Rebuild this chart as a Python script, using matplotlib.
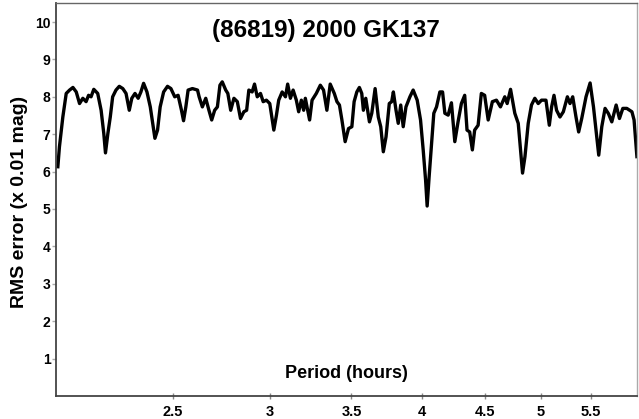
import matplotlib
matplotlib.use("Agg")
import matplotlib.pyplot as plt
from matplotlib.ticker import FixedLocator, NullLocator

# period (hours) and RMS error (x 0.01 mag)
period = [2.013, 2.019, 2.032, 2.045, 2.058, 2.071, 2.084, 2.097, 2.110, 2.123,
          2.133, 2.143, 2.154, 2.170, 2.184, 2.195, 2.202, 2.212, 2.222, 2.232,
          2.246, 2.260, 2.275, 2.289, 2.303, 2.314, 2.328, 2.342, 2.354, 2.366,
          2.381, 2.396, 2.407, 2.417, 2.429, 2.441, 2.457, 2.475, 2.491, 2.509,
          2.525, 2.541, 2.551, 2.562, 2.573, 2.594, 2.619, 2.627, 2.643, 2.660,
          2.676, 2.690, 2.705, 2.719, 2.732, 2.744, 2.762, 2.773, 2.788, 2.805,
          2.823, 2.840, 2.858, 2.873, 2.885, 2.903, 2.916, 2.931, 2.949, 2.964,
          2.982, 3.001, 3.024, 3.039, 3.052, 3.072, 3.091, 3.104, 3.120, 3.136,
          3.155, 3.169, 3.185, 3.199, 3.209, 3.223, 3.235, 3.250, 3.276, 3.301,
          3.321, 3.342, 3.363, 3.389, 3.406, 3.422, 3.438, 3.459, 3.481, 3.503,
          3.518, 3.536, 3.553, 3.569, 3.580, 3.596, 3.621, 3.637, 3.660, 3.682,
          3.699, 3.717, 3.736, 3.759, 3.776, 3.788, 3.807, 3.823, 3.841, 3.859,
          3.879, 3.908, 3.932, 3.962, 3.987, 4.007, 4.025, 4.037, 4.052, 4.071,
          4.088, 4.109, 4.135, 4.156, 4.174, 4.200, 4.226, 4.253, 4.279, 4.306,
          4.333, 4.352, 4.374, 4.396, 4.415, 4.444, 4.471, 4.499, 4.529, 4.565,
          4.600, 4.635, 4.673, 4.694, 4.724, 4.762, 4.793, 4.814, 4.832, 4.854,
          4.884, 4.914, 4.945, 4.977, 5.008, 5.050, 5.082, 5.104, 5.127, 5.152,
          5.185, 5.218, 5.258, 5.284, 5.311, 5.344, 5.371, 5.402, 5.446, 5.488,
          5.523, 5.557, 5.578, 5.610, 5.645, 5.681, 5.717, 5.764, 5.800, 5.837,
          5.881, 5.938, 5.962, 5.994]
rms = [6.13, 6.66, 7.46, 8.09, 8.18, 8.25, 8.13, 7.82, 7.96, 7.87,
       8.04, 8.00, 8.20, 8.09, 7.64, 7.02, 6.50, 7.02, 7.46, 8.00,
       8.18, 8.28, 8.22, 8.09, 7.64, 7.96, 8.09, 7.96, 8.13, 8.36,
       8.13, 7.73, 7.29, 6.89, 7.11, 7.73, 8.13, 8.28, 8.22, 8.00,
       8.04, 7.64, 7.36, 7.73, 8.18, 8.22, 8.18, 8.00, 7.73, 7.96,
       7.64, 7.38, 7.64, 7.73, 8.31, 8.40, 8.18, 8.09, 7.64, 7.96,
       7.87, 7.42, 7.60, 7.64, 8.18, 8.13, 8.34, 8.00, 8.09, 7.87,
       7.91, 7.82, 7.11, 7.51, 7.91, 8.13, 8.00, 8.34, 7.96, 8.18,
       7.91, 7.60, 7.91, 7.64, 7.96, 7.64, 7.38, 7.91, 8.09, 8.31,
       8.18, 7.64, 8.34, 8.09, 7.87, 7.78, 7.38, 6.80, 7.15, 7.20,
       7.87, 8.13, 8.25, 8.09, 7.64, 7.96, 7.33, 7.56, 8.22, 7.46,
       7.20, 6.53, 6.93, 7.82, 7.87, 8.13, 7.64, 7.29, 7.78, 7.20,
       7.73, 8.00, 8.18, 7.91, 7.38, 6.58, 5.78, 5.08, 5.86, 6.75,
       7.56, 7.73, 8.13, 8.13, 7.56, 7.51, 7.84, 6.80, 7.33, 7.82,
       8.04, 7.11, 7.06, 6.58, 7.11, 7.24, 8.09, 8.04, 7.38, 7.87,
       7.91, 7.73, 8.00, 7.82, 8.20, 7.56, 7.29, 6.58, 5.96, 6.40,
       7.29, 7.78, 7.96, 7.82, 7.91, 7.91, 7.24, 7.73, 8.04, 7.64,
       7.46, 7.60, 8.00, 7.82, 8.00, 7.46, 7.06, 7.42, 8.00, 8.37,
       7.73, 6.93, 6.44, 7.20, 7.69, 7.55, 7.33, 7.78, 7.42, 7.69,
       7.69, 7.60, 7.38, 6.40]

x_ticks = [2.5, 3, 3.5, 4, 4.5, 5, 5.5]
x_tick_labels = ["2.5", "3", "3.5", "4", "4.5", "5", "5.5"]
y_ticks = [1, 2, 3, 4, 5, 6, 7, 8, 9, 10]

plt.rcParams['font.family'] = ['Liberation Sans', 'DejaVu Sans']

fig = plt.figure(figsize=(6.39, 4.19), dpi=100)
ax = fig.add_axes([56 / 639, 1 - 396 / 419, 581 / 639, 392.7 / 419])
ax.plot(period, rms, color='black', linewidth=2.4, solid_joinstyle='round')

ax.set_xscale('log')
ax.set_xlim(2.006, 5.995)
ax.set_ylim(0, 10.5)
ax.xaxis.set_major_locator(FixedLocator(x_ticks))
ax.xaxis.set_minor_locator(NullLocator())
ax.set_xticklabels(x_tick_labels)
ax.set_yticks(y_ticks)
ax.tick_params(axis='x', direction='inout', length=5, width=1, color='#888888',
               labelsize=10.5, pad=4)
ax.tick_params(axis='y', direction='out', length=3, width=1, color='#aaaaaa',
               labelsize=10, pad=1)
for lab in ax.get_xticklabels() + ax.get_yticklabels():
    lab.set_fontweight('bold')

for side in ['left', 'bottom']:
    ax.spines[side].set_color('#444444')
    ax.spines[side].set_linewidth(1.3)
ax.spines['top'].set_color('#666666')
ax.spines['top'].set_linewidth(1.0)
ax.spines['right'].set_color('#aaaaaa')
ax.spines['right'].set_linewidth(1.0)

fig.text(326 / 639, 1 - 30 / 419, "(86819) 2000 GK137", ha='center', va='center',
         fontsize=17.5, fontweight='bold')
ax.text(0.5, (396 - 373) / 392.7, "Period (hours)", transform=ax.transAxes,
        ha='center', va='center', fontsize=13, fontweight='bold')
fig.text(20 / 639, 1 - 202 / 419, "RMS error (x 0.01 mag)", rotation=90,
         ha='center', va='center', fontsize=14, fontweight='bold')

fig.savefig("out.png", dpi=100)
